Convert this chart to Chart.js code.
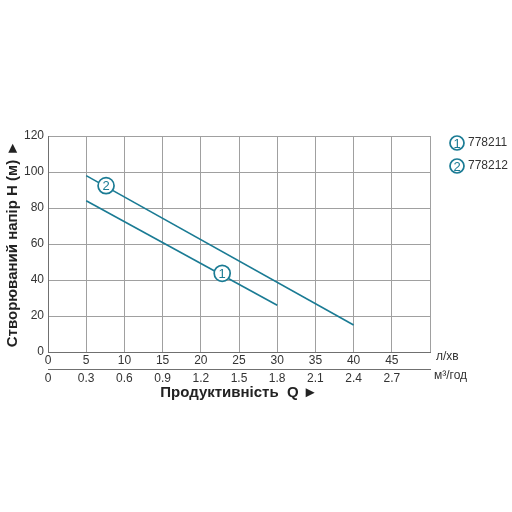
<!DOCTYPE html>
<html>
<head>
<meta charset="utf-8">
<script src="https://cdn.jsdelivr.net/npm/chart.js@4"></script>
<style>
  html, body { margin: 0; padding: 0; background: #fff; }
  #wrap { width: 512px; height: 512px; }
</style>
</head>
<body>
<div id="wrap"><canvas id="pumpChart" width="512" height="512"></canvas></div>
<script>
const FONT = '"Liberation Sans", Arial, sans-serif';
const TEAL = '#1a7b94';

// pump curves, flow in l/min vs head in m
const flow1 = [5, 30];
const head1 = [84, 26];
const flow2 = [5, 40];
const head2 = [98, 15];

// where the numbered circles sit on each curve
const markerNums = ['1', '2'];
const markerFlow = [22.8, 7.6];
const markerHead = [43.7, 92.4];

const models = ['778211', '778212'];

const lminTicks = [0, 5, 10, 15, 20, 25, 30, 35, 40, 45, 50];
const lminLabels = ['0', '5', '10', '15', '20', '25', '30', '35', '40', '45', ''];
const m3Ticks = [0, 0.3, 0.6, 0.9, 1.2, 1.5, 1.8, 2.1, 2.4, 2.7, 3.0];
const m3Labels = ['0', '0.3', '0.6', '0.9', '1.2', '1.5', '1.8', '2.1', '2.4', '2.7', ''];
const headTicks = [0, 20, 40, 60, 80, 100, 120];

const toPoints = (xs, ys) => xs.map((x, i) => ({ x: x, y: ys[i] }));

function numberedCircle(ctx, cx, cy, r, txt) {
    ctx.beginPath();
    ctx.arc(cx, cy, r, 0, Math.PI * 2);
    ctx.fillStyle = '#fff';
    ctx.fill();
    ctx.lineWidth = 1.7;
    ctx.strokeStyle = TEAL;
    ctx.stroke();
    ctx.fillStyle = TEAL;
    ctx.textAlign = 'center';
    ctx.textBaseline = 'middle';
    ctx.font = '13px ' + FONT;
    ctx.fillText(txt, cx, cy + 1);
}

const overlay = {
    id: 'overlay',
    afterDatasetsDraw(chart) {
        const ctx = chart.ctx;
        const x = chart.scales.x, y = chart.scales.y;
        ctx.save();
        // numbered circles on the curves
        markerNums.forEach((n, i) => {
            numberedCircle(ctx, x.getPixelForValue(markerFlow[i]), y.getPixelForValue(markerHead[i]), 8, n);
        });
        // units at the end of both flow axes
        ctx.fillStyle = '#333';
        ctx.textAlign = 'left';
        ctx.textBaseline = 'middle';
        ctx.font = '12px ' + FONT;
        ctx.fillText('л/хв', 436, 357);
        ctx.fillText('м³/год', 434, 376);
        // legend
        models.forEach((m, i) => {
            const cy = 143 + i * 23;
            numberedCircle(ctx, 457, cy, 7, String(i + 1));
            ctx.fillStyle = '#333';
            ctx.textAlign = 'left';
            ctx.font = '12px ' + FONT;
            ctx.fillText(m, 468, cy);
        });
        ctx.restore();
    }
};

new Chart(document.getElementById('pumpChart'), {
    type: 'line',
    data: {
        datasets: [
            { label: models[0], data: toPoints(flow1, head1), borderColor: TEAL, borderWidth: 1.6, pointRadius: 0, fill: false },
            { label: models[1], data: toPoints(flow2, head2), borderColor: TEAL, borderWidth: 1.6, pointRadius: 0, fill: false }
        ]
    },
    options: {
        responsive: false,
        animation: false,
        layout: { padding: { top: 136, right: 82, left: 4, bottom: 106 } },
        plugins: { legend: { display: false }, tooltip: { enabled: false } },
        scales: {
            x: {
                type: 'linear', position: 'bottom', min: 0, max: 50,
                afterBuildTicks: s => { s.ticks = lminTicks.map(v => ({ value: v })); },
                afterFit: s => { s.height = 17; },
                ticks: { callback: (v, i) => lminLabels[i], color: '#333', font: { family: FONT, size: 12 }, padding: 1, maxRotation: 0 },
                grid: { color: '#a0a0a0', lineWidth: 1, drawTicks: false },
                border: { color: '#707070' }
            },
            x2: {
                type: 'linear', position: 'bottom', min: 0, max: 3.0,
                afterBuildTicks: s => { s.ticks = m3Ticks.map(v => ({ value: v })); },
                afterFit: s => { s.height = 37; },
                ticks: { callback: (v, i) => m3Labels[i], color: '#333', font: { family: FONT, size: 12 }, padding: 2, maxRotation: 0 },
                grid: { display: false, drawTicks: false },
                border: { color: '#707070' },
                title: { display: true, text: 'Продуктивність  Q ►', color: '#222', font: { family: FONT, size: 15, weight: 'bold' } }
            },
            y: {
                min: 0, max: 120,
                afterBuildTicks: s => { s.ticks = headTicks.map(v => ({ value: v })); },
                afterFit: s => { s.width = 44; },
                ticks: { color: '#333', font: { family: FONT, size: 12 }, padding: 4 },
                grid: { color: '#a0a0a0', lineWidth: 1, drawTicks: false },
                border: { color: '#707070' },
                title: { display: true, text: 'Створюваний напір H (м) ►', color: '#222', font: { family: FONT, size: 15, weight: 'bold' }, padding: { top: 0, bottom: 4 } }
            }
        }
    },
    plugins: [overlay]
});
</script>
</body>
</html>
